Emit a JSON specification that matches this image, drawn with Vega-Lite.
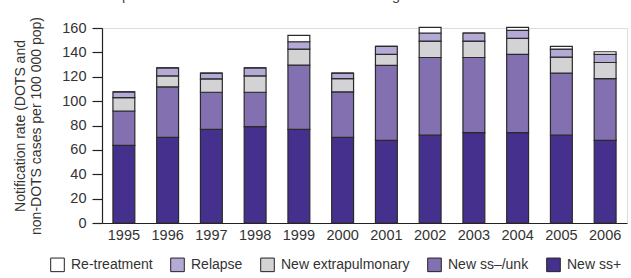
{
  "$schema": "https://vega.github.io/schema/vega-lite/v6.json",
  "autosize": {"type": "none"},
  "width": 525,
  "height": 195,
  "padding": {"left": 102, "top": 28, "right": 4, "bottom": 55},
  "background": "white",
  "title": {
    "text": "Notification rates peaked around 2003 and are now declining",
    "anchor": "start",
    "frame": "group",
    "dx": -92,
    "offset": 2,
    "baseline": "alphabetic",
    "font": "Liberation Sans",
    "fontSize": 14.5,
    "fontWeight": "normal",
    "color": "#444"
  },
  "data": {
    "values": [
      {"year": "1995", "category": "New ss+", "value": 63.7},
      {"year": "1995", "category": "New ss–/unk", "value": 28.2},
      {"year": "1995", "category": "New extrapulmonary", "value": 11.0},
      {"year": "1995", "category": "Relapse", "value": 4.7},
      {"year": "1995", "category": "Re-treatment", "value": 0},
      {"year": "1996", "category": "New ss+", "value": 70.3},
      {"year": "1996", "category": "New ss–/unk", "value": 41.4},
      {"year": "1996", "category": "New extrapulmonary", "value": 9.0},
      {"year": "1996", "category": "Relapse", "value": 6.6},
      {"year": "1996", "category": "Re-treatment", "value": 0},
      {"year": "1997", "category": "New ss+", "value": 76.8},
      {"year": "1997", "category": "New ss–/unk", "value": 30.5},
      {"year": "1997", "category": "New extrapulmonary", "value": 11.0},
      {"year": "1997", "category": "Relapse", "value": 4.6},
      {"year": "1997", "category": "Re-treatment", "value": 0},
      {"year": "1998", "category": "New ss+", "value": 79.0},
      {"year": "1998", "category": "New ss–/unk", "value": 28.3},
      {"year": "1998", "category": "New extrapulmonary", "value": 13.4},
      {"year": "1998", "category": "Relapse", "value": 6.6},
      {"year": "1998", "category": "Re-treatment", "value": 0},
      {"year": "1999", "category": "New ss+", "value": 76.8},
      {"year": "1999", "category": "New ss–/unk", "value": 52.7},
      {"year": "1999", "category": "New extrapulmonary", "value": 13.2},
      {"year": "1999", "category": "Relapse", "value": 6.0},
      {"year": "1999", "category": "Re-treatment", "value": 5.3},
      {"year": "2000", "category": "New ss+", "value": 70.3},
      {"year": "2000", "category": "New ss–/unk", "value": 37.3},
      {"year": "2000", "category": "New extrapulmonary", "value": 10.9},
      {"year": "2000", "category": "Relapse", "value": 4.4},
      {"year": "2000", "category": "Re-treatment", "value": 0},
      {"year": "2001", "category": "New ss+", "value": 67.8},
      {"year": "2001", "category": "New ss–/unk", "value": 61.5},
      {"year": "2001", "category": "New extrapulmonary", "value": 9.0},
      {"year": "2001", "category": "Relapse", "value": 6.6},
      {"year": "2001", "category": "Re-treatment", "value": 0},
      {"year": "2002", "category": "New ss+", "value": 72.2},
      {"year": "2002", "category": "New ss–/unk", "value": 63.6},
      {"year": "2002", "category": "New extrapulmonary", "value": 13.5},
      {"year": "2002", "category": "Relapse", "value": 6.6},
      {"year": "2002", "category": "Re-treatment", "value": 4.6},
      {"year": "2003", "category": "New ss+", "value": 74.1},
      {"year": "2003", "category": "New ss–/unk", "value": 61.7},
      {"year": "2003", "category": "New extrapulmonary", "value": 13.5},
      {"year": "2003", "category": "Relapse", "value": 6.6},
      {"year": "2003", "category": "Re-treatment", "value": 0},
      {"year": "2004", "category": "New ss+", "value": 74.1},
      {"year": "2004", "category": "New ss–/unk", "value": 64.2},
      {"year": "2004", "category": "New extrapulmonary", "value": 13.2},
      {"year": "2004", "category": "Relapse", "value": 6.6},
      {"year": "2004", "category": "Re-treatment", "value": 2.4},
      {"year": "2005", "category": "New ss+", "value": 72.2},
      {"year": "2005", "category": "New ss–/unk", "value": 50.7},
      {"year": "2005", "category": "New extrapulmonary", "value": 13.2},
      {"year": "2005", "category": "Relapse", "value": 6.6},
      {"year": "2005", "category": "Re-treatment", "value": 2.2},
      {"year": "2006", "category": "New ss+", "value": 67.8},
      {"year": "2006", "category": "New ss–/unk", "value": 50.7},
      {"year": "2006", "category": "New extrapulmonary", "value": 13.2},
      {"year": "2006", "category": "Relapse", "value": 6.6},
      {"year": "2006", "category": "Re-treatment", "value": 2.2}
    ]
  },
  "transform": [
    {"calculate": "indexof(['New ss+','New ss–/unk','New extrapulmonary','Relapse','Re-treatment'], datum.category)", "as": "stackOrder"}
  ],
  "mark": {"type": "bar", "stroke": "#2a2a2a", "strokeWidth": 1.2},
  "encoding": {
    "x": {
      "field": "year",
      "type": "ordinal",
      "scale": {"paddingInner": 0.5, "paddingOuter": 0.25},
      "axis": {
        "title": null,
        "labelAngle": 0,
        "ticks": false,
        "domainColor": "#222",
        "domainWidth": 1.2,
        "labelFont": "Liberation Sans",
        "labelFontSize": 14.5,
        "labelColor": "#333",
        "labelPadding": 5
      }
    },
    "y": {
      "field": "value",
      "type": "quantitative",
      "aggregate": "sum",
      "stack": "zero",
      "scale": {"domain": [0, 160], "nice": false},
      "axis": {
        "values": [0, 20, 40, 60, 80, 100, 120, 140, 160],
        "grid": false,
        "tickSize": 10,
        "tickColor": "#222",
        "tickWidth": 1.2,
        "domainColor": "#222",
        "domainWidth": 1.2,
        "labelFont": "Liberation Sans",
        "labelFontSize": 14.5,
        "labelColor": "#333",
        "labelPadding": 6,
        "title": ["Notification rate (DOTS and", "non-DOTS cases per 100 000 pop)"],
        "titleFont": "Liberation Sans",
        "titleFontSize": 14,
        "titleFontWeight": "normal",
        "titleColor": "#333",
        "titleLineHeight": 16,
        "titlePadding": 18
      }
    },
    "color": {
      "field": "category",
      "type": "nominal",
      "scale": {
        "domain": ["Re-treatment", "Relapse", "New extrapulmonary", "New ss–/unk", "New ss+"],
        "range": ["#ffffff", "#b5a9d5", "#d3d3d6", "#8370b1", "#46308e"]
      },
      "legend": {
        "title": null,
        "orient": "none",
        "direction": "horizontal",
        "legendX": -52,
        "legendY": 229,
        "symbolType": "square",
        "symbolSize": 185,
        "symbolStrokeColor": "#222",
        "symbolStrokeWidth": 1,
        "symbolOpacity": 1,
        "labelFont": "Liberation Sans",
        "labelFontSize": 14,
        "labelColor": "#333",
        "labelOffset": 6,
        "columnPadding": 15
      }
    },
    "order": {"field": "stackOrder", "type": "quantitative", "aggregate": "min"}
  }
}
